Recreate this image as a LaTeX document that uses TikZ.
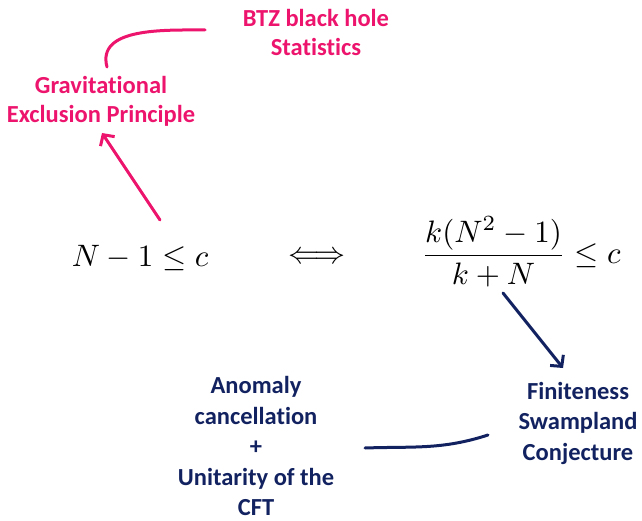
\documentclass[tikz,border=0pt]{standalone}
\usepackage{amsmath}
\usepackage{fontspec}
\setmainfont{Carlito}[Ligatures=NoCommon]
\usetikzlibrary{arrows.meta}
\definecolor{gepPink}{RGB}{236,20,108}
\definecolor{fscNavy}{RGB}{18,34,96}
\tikzset{
  pinktext/.style={text=gepPink,font=\fontsize{24.5}{29}\selectfont\bfseries,align=center,inner sep=1pt},
  navytext/.style={text=fscNavy,font=\fontsize{24.5}{30.5}\selectfont\bfseries,align=center,inner sep=1pt},
  mathtext/.style={scale=3.1,inner sep=1pt},
  pinkline/.style={draw=gepPink,line width=3pt,line cap=round},
  navyline/.style={draw=fscNavy,line width=3pt,line cap=round},
  barb/.style={-{Straight Barb[length=8pt,width=17pt]}}
}
\begin{document}
\begin{tikzpicture}[x=1pt,y=1pt]
  \useasboundingbox (0,0) rectangle (642,520);
  % texts
  \node[pinktext] (btz) at (316,488) {BTZ black hole\\Statistics};
  \node[pinktext] (gep) at (101,419) {Gravitational\\Exclusion Principle};
  \node[mathtext] (lhs) at (140,262) {$N-1\leq c$};
  \node[mathtext] (iff) at (317,262) {$\Longleftrightarrow$};
  \node[mathtext] (rhs) at (521,268) {$\dfrac{k(N^2-1)}{k+N}\leq c$};
  \node[navytext] (fsc) at (578,97) {Finiteness\\Swampland\\Conjecture};
  \node[navytext] (auc) at (256,74) {Anomaly\\cancellation\\+\\Unitarity of the\\CFT};
  % links
  \draw[pinkline] ([shift={(-111,2)}]btz.center) to[out=180,in=105] ([shift={(6,34)}]gep.center);
  \draw[pinkline,barb] ([shift={(20,38)}]lhs.center) -- ([shift={(1,-32)}]gep.center);
  \draw[navyline,barb] ([shift={(-18,-41)}]rhs.center) -- ([shift={(-15,55)}]fsc.center);
  \draw[navyline] ([shift={(109,-2)}]auc.center) to[out=2,in=198] ([shift={(-90,-12)}]fsc.center);
\end{tikzpicture}
\end{document}
